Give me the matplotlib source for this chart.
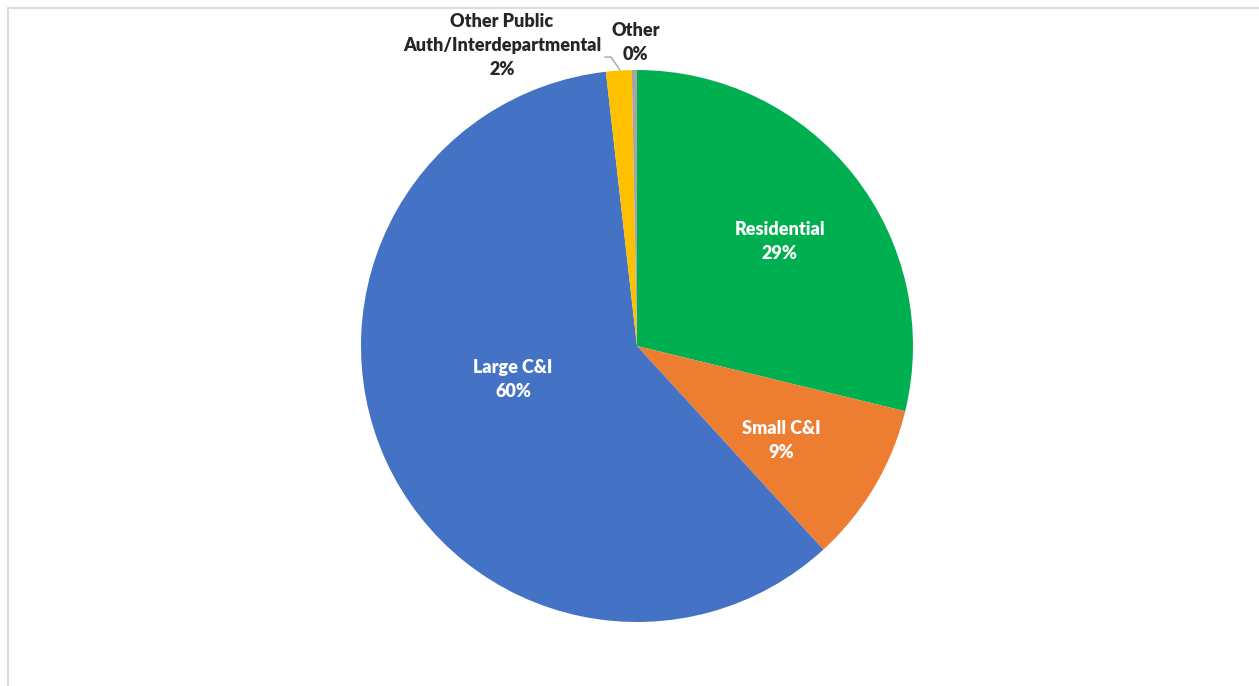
import matplotlib
matplotlib.use('Agg')
import matplotlib.pyplot as plt
from matplotlib.lines import Line2D

plt.rcParams['font.family'] = ['Lato', 'DejaVu Sans']

categories = ['Residential', 'Small C&I', 'Large C&I',
              'Other Public\nAuth/Interdepartmental', 'Other']
shares = [28.8, 9.4, 60.0, 1.5, 0.3]
colors = ['#00B050', '#ED7D31', '#4472C4', '#FFC000', '#A5A5A5']
label_colors = ['white', 'white', 'white', '#262626', '#262626']
# label centres in pie-radius units
label_pos = [(0.518, 0.377), (0.522, -0.344), (-0.449, -0.123),
             (-0.489, 1.087), (-0.004, 1.101)]

W, H = 1259, 686
fig = plt.figure(figsize=(W / 100, H / 100), dpi=100)

cx, cy, r = 637, 346, 276
ax = fig.add_axes([(cx - r) / W, (H - cy - r) / H, 2 * r / W, 2 * r / H])

wedges, _ = ax.pie(shares, colors=colors, startangle=90, counterclock=False,
                   radius=1, wedgeprops=dict(linewidth=0))
ax.set_xlim(-1, 1)
ax.set_ylim(-1, 1)
ax.set_aspect('equal')
ax.axis('off')

for name, val, (lx, ly), c in zip(categories, shares, label_pos, label_colors):
    ax.text(lx, ly, f"{name}\n{val:.0f}%", ha='center', va='center',
            fontsize=13, fontweight='heavy', color=c, linespacing=1.5,
            clip_on=False)

# leader line for the small yellow slice
ax.plot([-0.116, -0.094, -0.062], [1.047, 1.047, 1.0], color='#A6A6A6',
        lw=1, clip_on=False)

# chart area border (top and left edges visible)
bc = '#D9D9D9'
fig.add_artist(Line2D([8 / W, 8 / W], [0, 1 - 8 / H], color=bc, lw=1.3))
fig.add_artist(Line2D([8 / W, 1], [1 - 8 / H, 1 - 8 / H], color=bc, lw=1.3))

fig.savefig('out.png', dpi=100)
